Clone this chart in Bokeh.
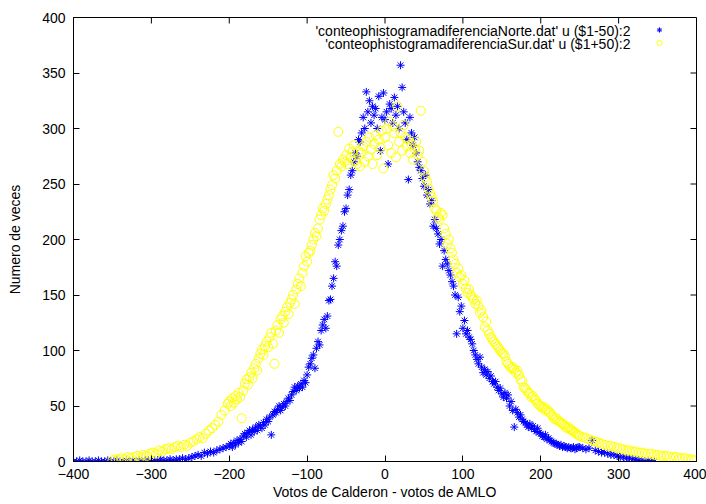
import math
from bokeh.plotting import figure
from bokeh.models import Range1d, FixedTicker, Legend, LegendItem, Label
from bokeh.embed import file_html
from bokeh.resources import INLINE

# ---------------- data ----------------
x_ticks = [-400, -300, -200, -100, 0, 100, 200, 300, 400]
y_ticks = [0, 50, 100, 150, 200, 250, 300, 350, 400]

norte_label = "'conteophistogramadiferenciaNorte.dat' u ($1-50):2"
sur_label = "'conteophistogramadiferenciaSur.dat' u ($1+50):2"
x_title = "Votos de Calderon - votos de AMLO"
y_title = "Numero de veces"

# Norte (shifted by -50)
norte_x = list(range(-400, -200, 4)) + list(range(-200, 250, 2)) + list(range(250, 349, 4))
norte_left = [0, 0, 1, 0, 0, 1, 0, 0, 1, 0, 0, 1, 0,
              0, 1, 0, 0, 1, 0, 1, 0, 1, 0, 1, 1, 0,
              1, 1, 2, 1, 1, 2, 1, 2, 2, 3, 2, 3,
              4, 5, 6, 5, 8, 7, 9, 8, 10, 11, 12, 13]
norte_core = [14, 16, 13, 17, 15, 19, 17, 20, 18, 23,
              25, 22, 26, 28, 24, 29, 27, 31, 28, 33,
              32, 30, 35, 33, 38, 36, 40, 24, 42, 45,
              44, 47, 50, 46, 49, 52, 50, 54, 57, 55,
              60, 63, 67, 64, 68, 66, 70, 67, 73, 71,
              78, 85, 88, 93, 96, 84, 102, 108, 105, 118,
              123, 128, 120, 131, 145, 146, 158, 165, 180, 176,
              195, 200, 208, 212, 225, 228, 240, 245, 258, 262,
              270, 278, 275, 290, 288, 296, 310, 300, 333, 315,
              325, 305, 320, 312, 318, 300, 329, 280, 310, 332,
              308, 315, 268, 322, 318, 305, 328, 312, 320, 300,
              357, 337, 315, 305, 290, 254, 310, 296, 285, 292,
              278, 270, 265, 262, 255, 248, 258, 240, 245, 232,
              235, 212, 218, 210, 205, 196, 200, 176, 190, 182,
              178, 172, 168, 162, 158, 150, 115, 148, 135, 140,
              120, 127, 115, 118, 112, 110, 106, 100, 96, 92,
              88, 94, 85, 80, 83, 78, 81, 75, 77, 72,
              70, 72, 67, 64, 66, 61, 58, 62, 57, 60,
              50, 54, 46, 31, 47, 44, 40, 42, 38, 36,
              35, 33, 31, 34, 30, 32, 29, 27, 30, 26,
              25, 23, 22, 24, 20, 21, 19, 18, 17, 16,
              16, 15, 14, 15, 13, 14, 13, 12, 13, 12,
              12, 13, 11, 12, 13]
norte_right = [13, 12, 11, 12, 19, 10, 9, 8, 8, 7,
               6, 6, 5, 4, 4, 3, 3, 2, 2, 1,
               1, 0, 1, 0, 0]
norte_y = norte_left + norte_core + norte_right

# Sur (shifted by +50)
sur_x = list(range(-350, -200, 4)) + list(range(-200, 250, 2)) + list(range(250, 401, 4))
sur_left = [1, 2, 2, 3, 2, 4, 3, 4, 5, 4,
            6, 5, 7, 8, 7, 10, 9, 11, 12, 11,
            13, 14, 13, 15, 14, 17, 18, 20, 22, 21,
            25, 28, 30, 33, 36, 42, 46, 52]
sur_core = [54, 50, 57, 53, 59, 56, 62, 58, 39, 64,
            70, 74, 69, 76, 80, 75, 84, 88, 82, 93,
            97, 101, 96, 104, 108, 103, 112, 116, 106, 88,
            118, 123, 116, 128, 131, 125, 135, 139, 133, 143,
            146, 150, 142, 155, 160, 165, 158, 170, 176, 185,
            180, 188, 190, 195, 200, 206, 203, 210, 218, 222,
            228, 226, 232, 236, 240, 245, 249, 258, 255, 262,
            297, 268, 266, 272, 270, 276, 268, 282, 274, 279,
            285, 271, 268, 280, 266, 278, 284, 270, 288, 275,
            292, 281, 268, 286, 294, 276, 290, 283, 298, 264,
            292, 300, 285, 306, 278, 302, 296, 274, 320, 288,
            296, 280, 303, 292, 284, 290, 278, 286, 272, 282,
            288, 276, 280, 316, 270, 262, 256, 252, 246, 242,
            238, 234, 228, 226, 220, 218, 224, 222, 210, 205,
            196, 200, 192, 188, 182, 178, 170, 174, 166, 168,
            160, 163, 156, 152, 155, 150, 148, 146, 142, 145,
            140, 134, 136, 130, 121, 126, 118, 115, 112, 110,
            108, 106, 104, 102, 100, 98, 97, 95, 90, 88,
            86, 84, 85, 83, 80, 82, 78, 74, 72, 67,
            66, 64, 62, 61, 58, 59, 56, 55, 52, 51,
            50, 48, 49, 46, 47, 45, 44, 42, 40, 38,
            39, 37, 36, 35, 34, 33, 31, 30, 31, 29,
            28, 27, 26, 25, 24]
sur_right = [23, 22, 21, 20, 19, 18, 17, 16, 15, 14,
             14, 13, 12, 12, 11, 10, 10, 9, 9, 8,
             8, 7, 7, 7, 6, 6, 5, 5, 5, 4,
             4, 4, 3, 3, 3, 2, 2, 1]
sur_y = sur_left + sur_core + sur_right

# ---------------- figure ----------------
FONT = "Liberation Sans"

p = figure(width=706, height=504, output_backend="svg", toolbar_location=None,
           x_range=Range1d(-400, 400), y_range=Range1d(0, 400),
           min_border_left=73, min_border_right=10, min_border_top=17, min_border_bottom=43)
p.background_fill_color = "white"
p.border_fill_color = "white"
p.outline_line_color = "black"
p.outline_line_alpha = 1.0
p.xgrid.visible = False
p.ygrid.visible = False

r_norte = p.scatter(norte_x, norte_y, marker="asterisk", size=8,
                    line_color="#0000ff", line_width=1)
r_sur = p.scatter(sur_x, sur_y, marker="circle", size=9, fill_color=None,
                  line_color="#ffff00", line_width=1)

for ax, ticks in [(p.xaxis[0], x_ticks), (p.yaxis[0], y_ticks)]:
    ax.ticker = FixedTicker(ticks=ticks)
    ax.major_tick_in = 6
    ax.major_tick_out = 0
    ax.minor_tick_in = 0
    ax.minor_tick_out = 0
    ax.axis_line_color = "black"
    ax.major_tick_line_color = "black"
    ax.major_label_text_font = FONT
    ax.major_label_text_font_size = "14px"
    ax.major_label_text_color = "black"
    ax.axis_label_text_font = FONT
    ax.axis_label_text_font_size = "14px"
    ax.axis_label_text_font_style = "normal"
    ax.axis_label_text_color = "black"

p.xaxis[0].axis_label = x_title
p.yaxis[0].axis_label = y_title
p.xaxis[0].major_label_standoff = 7
p.xaxis[0].axis_label_standoff = 2
p.yaxis[0].major_label_standoff = 8
p.yaxis[0].axis_label_standoff = 16

# mirrored inward ticks on the top and right edges
p.ray(x=x_ticks, y=[y_ticks[-1]] * len(x_ticks), length=6, length_units="screen",
      angle=-math.pi / 2, line_color="black", line_width=1)
p.ray(x=[x_ticks[-1]] * len(y_ticks), y=y_ticks, length=6, length_units="screen",
      angle=math.pi, line_color="black", line_width=1)

# legend: markers on the right, texts right-aligned to their left
legend = Legend(items=[LegendItem(label=" ", renderers=[r_norte]),
                       LegendItem(label=" ", renderers=[r_sur])],
                location=(576, 412), orientation="vertical",
                border_line_color=None, background_fill_alpha=0,
                glyph_width=20, glyph_height=13, label_height=13, label_width=1,
                label_standoff=0, spacing=0, padding=0, margin=0,
                label_text_font_size="8px")
p.add_layout(legend)

for txt, yy in [(norte_label, 431), (sur_label, 418)]:
    p.add_layout(Label(x=557, y=yy, x_units="screen", y_units="screen", text=txt,
                       text_align="right", text_baseline="middle",
                       text_font=FONT, text_font_size="14px", text_color="black"))

open("out.html", "w").write(file_html(p, INLINE))
